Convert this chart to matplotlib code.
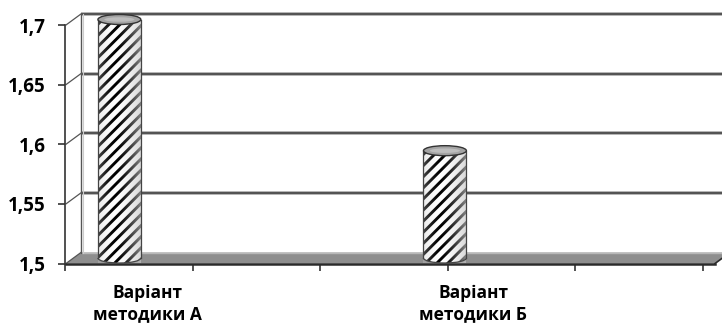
import numpy as np
import matplotlib
matplotlib.use("Agg")
import matplotlib.pyplot as plt
from matplotlib.patches import Ellipse, Polygon, Arc

categories = ["Варіант\nметодики А", "Варіант\nметодики Б"]
values = [1.70, 1.59]
y_ticks = [1.5, 1.55, 1.6, 1.65, 1.7]
y_labels = ["1,5", "1,55", "1,6", "1,65", "1,7"]

plt.rcParams["font.family"] = ["Open Sans", "DejaVu Sans"]
plt.rcParams["font.weight"] = "bold"
plt.rcParams["hatch.linewidth"] = 2.1

W, H = 722, 325
fig = plt.figure(figsize=(W / 100, H / 100), dpi=100)
left_px, bottom_px, top_px = 65, 61.5, 300
ax = fig.add_axes([left_px / W, bottom_px / H, (W - left_px) / W, (top_px - bottom_px) / H])

x0, x1 = -0.141, 1.874
y0, y1 = 1.5, 1.7
ax.set_xlim(x0, x1)
ax.set_ylim(y0, y1)

# pixel -> data scale, used for the fake 3d depth
sx = (W - left_px) / (x1 - x0)
sy = (top_px - bottom_px) / (y1 - y0)
DX, DY = 15 / sx, 11 / sy
x_end = x0 + 650 / sx

# floor
floor = Polygon([(x0, y0), (x_end, y0), (x_end + DX, y0 + DY), (x0 + DX, y0 + DY)],
                closed=True, facecolor="#8e8e8e", edgecolor="none", clip_on=False, zorder=1)
ax.add_patch(floor)
ax.plot([x0 + DX, x_end + DX], [y0 + DY, y0 + DY], color="#b8b8b8", lw=1, clip_on=False, zorder=1.5)
ax.plot([x0, x_end], [y0, y0], color="#2a2a2a", lw=1.8, clip_on=False, zorder=2)
ax.plot([x_end, x_end + DX], [y0, y0 + DY], color="#2a2a2a", lw=1.2, clip_on=False, zorder=2)

# side wall + back gridlines
ax.plot([x0 + DX, x0 + DX], [y0 + DY, y1 + DY], color="#555555", lw=1.0, clip_on=False, zorder=1.5)
ax.plot([x0 + DX + 0.006, x0 + DX + 0.006], [y0 + DY, y1 + DY], color="#cccccc", lw=0.8, clip_on=False, zorder=1.5)
for yt in y_ticks:
    ax.plot([x0, x0 + DX], [yt, yt + DY], color="#555555", lw=0.9, clip_on=False, zorder=1.5)
    if yt > y0:
        ax.plot([x0 + DX, x1 + DX], [yt + DY, yt + DY], color="#a5a5a5", lw=2.6,
                clip_on=False, zorder=1.2, solid_capstyle="butt")
        ax.plot([x0 + DX, x1 + DX], [yt + DY, yt + DY], color="#3c3c3c", lw=1.1,
                clip_on=False, zorder=1.3, solid_capstyle="butt")

# cylinders
bw = 43 / sx
eh = 10 / sy
xs = np.arange(len(values))
bars = ax.bar(xs + DX / 2, [v - y0 for v in values], bottom=y0 + DY / 2, width=bw,
              facecolor="white", edgecolor="black", hatch="///", linewidth=0, zorder=3, clip_on=False)

t = np.linspace(0, 1, 60)
alpha = np.clip(np.abs(t - 0.4) / 0.6, 0, 1) ** 1.5 * 0.65
shade = np.zeros((1, len(t), 4))
shade[0, :, :3] = 0.78
shade[0, :, 3] = alpha
for x, v in zip(xs, values):
    cx = x + DX / 2
    ax.add_patch(Ellipse((cx, y0 + DY / 2), bw, eh, facecolor="white", edgecolor="black",
                         hatch="///", linewidth=0, zorder=2.9, clip_on=False))
    ax.imshow(shade, extent=[cx - bw / 2, cx + bw / 2, y0 + DY / 2 - eh / 2, v + DY / 2],
              aspect="auto", interpolation="bilinear", zorder=3.1, clip_on=False)
    ax.add_patch(Arc((cx, y0 + DY / 2), bw, eh, theta1=180, theta2=360, color="#444444",
                     linewidth=0.9, zorder=3.3, clip_on=False))
    ax.plot([cx - bw / 2, cx - bw / 2], [y0 + DY / 2, v + DY / 2], color="#444444", lw=0.9, zorder=3.3, clip_on=False)
    ax.plot([cx + bw / 2, cx + bw / 2], [y0 + DY / 2, v + DY / 2], color="#444444", lw=0.9, zorder=3.3, clip_on=False)
    ax.add_patch(Ellipse((cx, v + DY / 2), bw, eh, facecolor="#a3a3a3", edgecolor="#333333",
                         linewidth=1.0, zorder=3.5, clip_on=False))
    ax.add_patch(Ellipse((cx, v + DY / 2), bw * 0.7, eh * 0.45, facecolor="#bdbdbd", edgecolor="none",
                         zorder=3.6, clip_on=False))

ax.set_xlim(x0, x1)
ax.set_ylim(y0, y1)

# axes / ticks
for s in ["top", "right", "bottom"]:
    ax.spines[s].set_visible(False)
ax.spines["left"].set_color("#333333")
ax.spines["left"].set_linewidth(1.2)
ax.set_yticks(y_ticks, y_labels)
ax.tick_params(axis="y", length=5, width=1.2, color="#333333", pad=9, labelsize=13.5)
ax.set_xticks(np.arange(-0.144, 1.9, 0.392), [])
ax.tick_params(axis="x", length=5, width=1.2, color="#333333")

for x, lab in zip(xs, categories):
    ax.annotate(lab, xy=(x + 0.11, y0), xytext=(0, -15), textcoords="offset points",
                ha="center", va="top", fontsize=12.5, fontweight="bold", linespacing=1.2,
                annotation_clip=False)

fig.savefig("out.png", dpi=100, facecolor="white")
